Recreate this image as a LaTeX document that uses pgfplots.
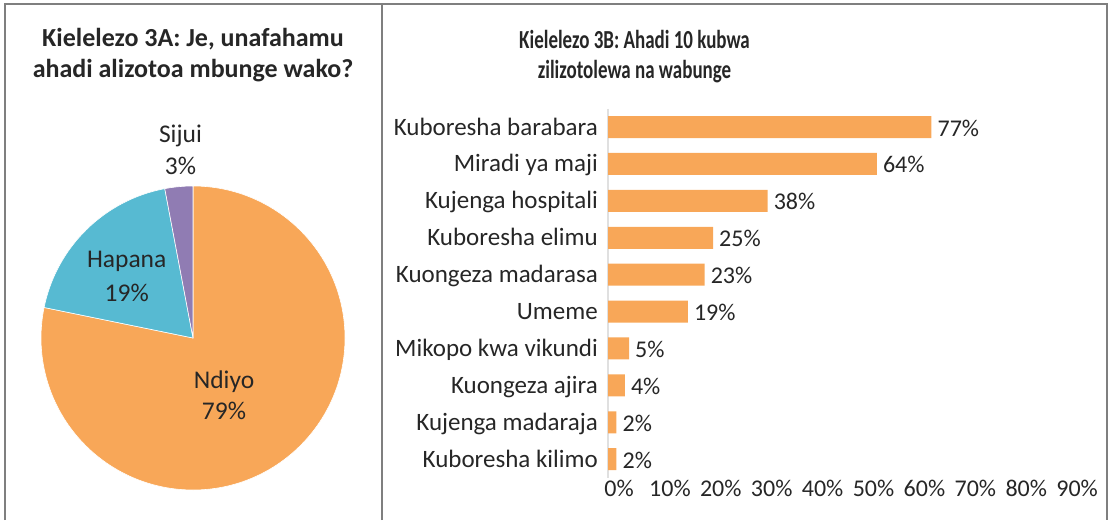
\documentclass[border=0pt]{standalone}
\usepackage{pgfplots}
\pgfplotsset{compat=1.18}
\usepackage{fontspec}
\setmainfont{Carlito}
\definecolor{orng}{HTML}{F8A758}
\definecolor{blu}{HTML}{57BAD2}
\definecolor{purp}{HTML}{907CB3}
\definecolor{txt}{HTML}{262626}
\definecolor{framec}{HTML}{7F7F7F}
\begin{document}
\begin{tikzpicture}[x=1pt,y=1pt]
\useasboundingbox (0,0) rectangle (1113,520);
\draw[framec, line width=1.5pt] (5,0) -- (5,516) -- (1107,516) -- (1107,0);
\draw[framec, line width=1.5pt] (382,0) -- (382,516);
% titles
\tikzset{ttl/.style={anchor=base, inner sep=0, text=txt, font=\fontsize{26}{30}\selectfont\bfseries}}
\node[ttl] at (193,473) {Kielelezo 3A: Je, unafahamu};
\node[ttl] at (193,442) {ahadi alizotoa mbunge wako?};
\node[ttl] at (634.5,471) {\scalebox{0.73}[1]{Kielelezo 3B: Ahadi 10 kubwa}};
\node[ttl] at (634.5,441) {\scalebox{0.73}[1]{zilizotolewa na wabunge}};
% pie: values Ndiyo, Hapana, Sijui
\def\pieA{79}\def\pieB{19}\def\pieC{3}
\pgfmathsetmacro\tot{\pieA+\pieB+\pieC}
\pgfmathsetmacro\aA{90-360*(\pieA/\tot)}
\pgfmathsetmacro\aB{\aA-360*(\pieB/\tot)}
\pgfmathsetmacro\aC{\aB-360*(\pieC/\tot)}
\fill[orng, draw=white, line width=0.6pt] (193,182) -- ++(90:152) arc[start angle=90, end angle=\aA, radius=152] -- cycle;
\fill[blu, draw=white, line width=0.6pt] (193,182) -- ++(\aA:152) arc[start angle=\aA, end angle=\aB, radius=152] -- cycle;
\fill[purp, draw=white, line width=0.6pt] (193,182) -- ++(\aB:152) arc[start angle=\aB, end angle=\aC, radius=152] -- cycle;
\tikzset{pl/.style={anchor=base, inner sep=0, text=txt, font=\fontsize{25.5}{30}\selectfont}}
\node[pl] at (180.5,377) {Sijui};
\node[pl] at (180.5,345) {3\%};
\node[pl] at (126.7,252) {Hapana};
\node[pl] at (126.7,219) {19\%};
\node[pl] at (224,132) {Ndiyo};
\node[pl] at (224,101) {79\%};
% bar chart
\begin{axis}[
  at={(608pt,42.4pt)}, anchor=south west, scale only axis,
  width=470.4pt, height=369pt,
  xbar, bar width=22pt,
  xmin=0, xmax=112, ymin=0.5, ymax=10.5, y dir=reverse,
  axis lines=left, axis line style={-},
  x axis line style={draw=none},
  y axis line style={draw=black!12, line width=1.2pt},
  major tick length=0,
  /pgf/number format/assume math mode=true,
  ytick={1,...,10},
  yticklabels={Kuboresha barabara, Miradi ya maji, Kujenga hospitali, Kuboresha elimu, Kuongeza madarasa, Umeme, Mikopo kwa vikundi, Kuongeza ajira, Kujenga madaraja, Kuboresha kilimo},
  yticklabel style={anchor=base east, inner sep=0, xshift=-10pt, yshift=-8pt, text=txt, font=\fontsize{25}{30}\selectfont},
  xtick={2.62,14.74,26.86,38.98,51.10,63.22,75.34,87.46,99.58,111.70},
  xticklabels={0\%,10\%,20\%,30\%,40\%,50\%,60\%,70\%,80\%,90\%},
  xticklabel style={anchor=base, inner sep=0, yshift=-18.4pt, text=txt, font=\fontsize{24}{30}\selectfont},
  point meta=x,
  nodes near coords={\pgfmathprintnumber{\pgfplotspointmeta}\%},
  every node near coord/.append style={anchor=base west, inner sep=0, xshift=6pt, yshift=-9pt, text=txt, font=\fontsize{24}{30}\selectfont},
  clip=false,
]
\addplot[fill=orng, draw=none] coordinates {(77,1) (64,2) (38,3) (25,4) (23,5) (19,6) (5,7) (4,8) (2,9) (2,10)};
\end{axis}
\end{tikzpicture}
\end{document}
